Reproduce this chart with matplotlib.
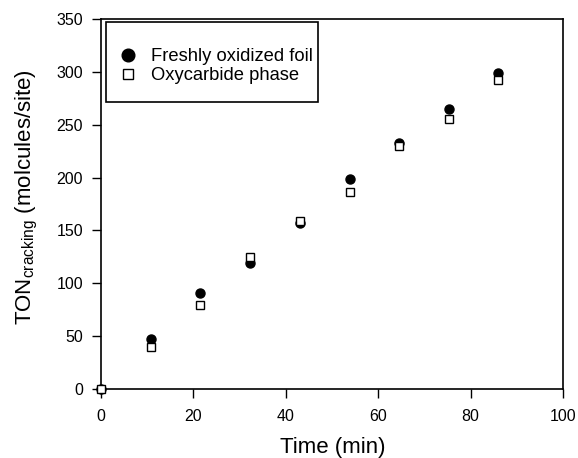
import numpy as np
import matplotlib
matplotlib.use('Agg')
import matplotlib.pyplot as plt
from matplotlib.patches import Rectangle

plt.rcParams['font.family'] = ['Liberation Sans', 'DejaVu Sans']

time_min = [0, 10.8, 21.5, 32.3, 43.0, 53.8, 64.6, 75.3, 86.0]
fresh = [0, 47, 91, 119, 157, 199, 233, 265, 299]
oxycarbide = [0, 40, 79, 125, 159, 186, 230, 255, 292]

W, H = 578, 458
fig = plt.figure(figsize=(W / 100, H / 100), dpi=100)
ax = fig.add_axes([101 / W, 1 - 389 / H, 462 / W, 370 / H])

ax.plot(time_min, fresh, 'o', color='black', markersize=6.5,
        label='Freshly oxidized foil', clip_on=False, zorder=3)
ax.plot(time_min, oxycarbide, 's', markerfacecolor='white', markeredgecolor='black',
        markersize=5.5, markeredgewidth=1.0, label='Oxycarbide phase',
        clip_on=False, zorder=4)

ax.set_xlim(0, 100)
ax.set_ylim(0, 350)
ax.set_xticks(np.arange(0, 101, 20))
ax.set_yticks(np.arange(0, 351, 50))
ax.tick_params(axis='x', direction='out', length=6.5, width=1, labelsize=11.5, pad=8)
ax.tick_params(axis='y', direction='out', length=6.5, width=1, labelsize=11.5, pad=6.5)
for s in ax.spines.values():
    s.set_linewidth(1.2)

ax.set_xlabel('Time (min)', fontsize=16)
ax.xaxis.set_label_coords(0.501, -0.13)
ax.set_ylabel(r'TON$_{\mathregular{cracking}}$ (molcules/site)', fontsize=16)
ax.yaxis.set_label_coords(-0.133, 0.52)

leg = ax.legend(loc='upper left', bbox_to_anchor=(119 / W, 1 - 48 / H),
                bbox_transform=fig.transFigure, fontsize=13.2, frameon=False,
                borderpad=0, borderaxespad=0, handlelength=1.0, handletextpad=0.75,
                labelspacing=0.12, markerscale=1.4)

fig.patches.append(Rectangle((106 / W, 1 - 102 / H), 212 / W, 80 / H,
                             transform=fig.transFigure, fill=True, facecolor='white',
                             edgecolor='black', linewidth=1.2, zorder=0))
ax.set_zorder(1)
ax.patch.set_alpha(0)

fig.savefig('out.png', dpi=100)
